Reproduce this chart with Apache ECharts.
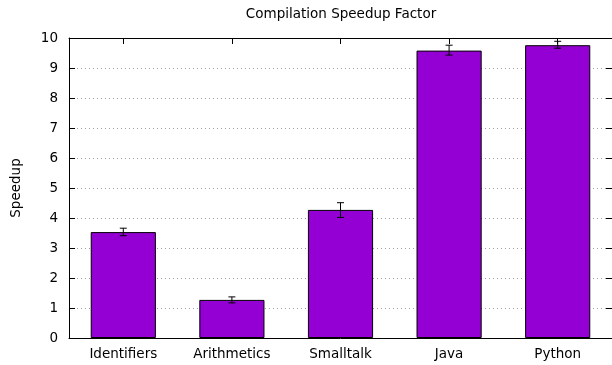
<!DOCTYPE html>
<html>
<head>
<meta charset="utf-8">
<script src="https://cdn.jsdelivr.net/npm/echarts@6/dist/echarts.min.js"></script>
<style>html,body{margin:0;padding:0;background:#fff;}#chart{width:612px;height:365px;}</style>
</head>
<body>
<div id="chart"></div>
<script>
const categories = ['Identifiers', 'Arithmetics', 'Smalltalk', 'Java', 'Python'];
const speedup = [3.53, 1.27, 4.27, 9.58, 9.76];
const errLow = [3.41, 1.17, 4.02, 9.43, 9.66];
const errHigh = [3.66, 1.37, 4.51, 9.76, 9.89];
const yTicks = [0, 1, 2, 3, 4, 5, 6, 7, 8, 9, 10];
const titleText = 'Compilation Speedup Factor';
const yLabel = 'Speedup';

const FONT = 'DejaVu Sans';
const FS = 13.5;
const chart = echarts.init(document.getElementById('chart'), null, {renderer: 'canvas'});
const errData = categories.map((c, i) => [i, errLow[i], errHigh[i]]);

chart.setOption({
  animation: false,
  backgroundColor: '#fff',
  grid: {left: 69, top: 38, width: 545, height: 300, containLabel: false},
  graphic: [
    {type: 'text', x: 341, y: 14, style: {text: titleText, fontFamily: FONT, fontSize: FS, fill: '#000', align: 'center', verticalAlign: 'middle'}},
    {type: 'text', x: 16, y: 188, rotation: Math.PI / 2, style: {text: yLabel, fontFamily: FONT, fontSize: FS, fill: '#000', align: 'center', verticalAlign: 'middle'}}
  ],
  xAxis: [
    {type: 'category', data: categories, position: 'bottom', boundaryGap: true,
     axisLine: {show: true, onZero: false, lineStyle: {color: '#000', width: 1}},
     axisTick: {show: true, inside: true, alignWithLabel: true, length: 6, lineStyle: {color: '#000'}},
     axisLabel: {color: '#000', fontFamily: FONT, fontSize: FS, margin: 9},
     splitLine: {show: false}},
    {type: 'category', data: categories, position: 'top', boundaryGap: true,
     axisLine: {show: true, onZero: false, lineStyle: {color: '#000', width: 1}},
     axisTick: {show: true, inside: true, alignWithLabel: true, length: 6, lineStyle: {color: '#000'}},
     axisLabel: {show: false}, splitLine: {show: false}}
  ],
  yAxis: [
    {type: 'value', min: yTicks[0], max: yTicks[yTicks.length - 1], interval: 1, position: 'left',
     axisLine: {show: true, onZero: false, lineStyle: {color: '#000', width: 1}},
     axisTick: {show: true, inside: true, length: 6, lineStyle: {color: '#000'}},
     axisLabel: {color: '#000', fontFamily: FONT, fontSize: FS, margin: 11},
     splitLine: {show: true, lineStyle: {color: '#a0a0a0', type: [1, 3], width: 1}}},
    {type: 'value', min: yTicks[0], max: yTicks[yTicks.length - 1], interval: 1, position: 'right',
     axisLine: {show: true, onZero: false, lineStyle: {color: '#000', width: 1}},
     axisTick: {show: true, inside: true, length: 6, lineStyle: {color: '#000'}},
     axisLabel: {show: false}, splitLine: {show: false}}
  ],
  series: [
    {type: 'bar', data: speedup, barWidth: '60%', xAxisIndex: 0, yAxisIndex: 0, z: 2,
     itemStyle: {color: '#9400d3', borderColor: '#000', borderWidth: 1}},
    {type: 'custom', data: errData, xAxisIndex: 0, yAxisIndex: 0, z: 5,
     renderItem: function (params, api) {
       const x = api.value(0);
       const lo = api.coord([x, api.value(1)]);
       const hi = api.coord([x, api.value(2)]);
       const hw = 3.5;
       const st = {stroke: '#000', lineWidth: 1};
       return {type: 'group', children: [
         {type: 'line', shape: {x1: lo[0], y1: lo[1], x2: hi[0], y2: hi[1]}, style: st},
         {type: 'line', shape: {x1: lo[0] - hw, y1: lo[1], x2: lo[0] + hw, y2: lo[1]}, style: st},
         {type: 'line', shape: {x1: hi[0] - hw, y1: hi[1], x2: hi[0] + hw, y2: hi[1]}, style: st}
       ]};
     }}
  ]
});
</script>
</body>
</html>
